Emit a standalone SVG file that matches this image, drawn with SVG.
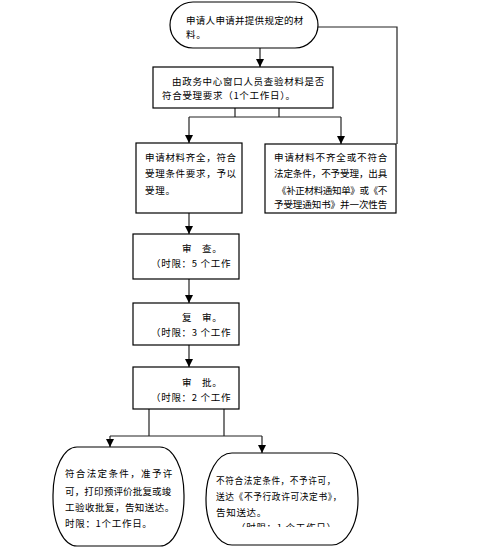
<svg xmlns="http://www.w3.org/2000/svg" width="503" height="555" viewBox="0 0 503 555">
<style>
.n{fill:#fff;stroke:#000;stroke-width:1.2}
.t{font-family:"Noto Sans CJK SC","Liberation Sans",sans-serif;font-size:9.5px;fill:#000;letter-spacing:0.7px}
.c{fill:none;stroke:#222;stroke-width:1.2}
</style>
<defs>
<marker id="ar" viewBox="0 0 8 8" refX="8" refY="4" markerWidth="8" markerHeight="8" markerUnits="userSpaceOnUse" orient="auto">
<path d="M0,0 L8,4 L0,8 Z" fill="#000"/>
</marker>
<clipPath id="clipR"><rect x="200" y="440" width="170" height="87"/></clipPath>
</defs>
<rect width="503" height="555" fill="#fff"/>
<g id="connectors">
<path class="c" d="M260,48 V67" marker-end="url(#ar)"/>
<path class="c" d="M318,27 H397 V144"/>
<path class="c" d="M235,108 V117 M279,108 V117 M189,117 H341"/>
<path class="c" d="M189,117 V143" marker-end="url(#ar)"/>
<path class="c" d="M341,117 V144" marker-end="url(#ar)"/>
<path class="c" d="M189,213 V234" marker-end="url(#ar)"/>
<path class="c" d="M189,279 V303" marker-end="url(#ar)"/>
<path class="c" d="M189,345 V367" marker-end="url(#ar)"/>
<path class="c" d="M149,409 V436 M224,409 V436 M110,436 H262"/>
<path class="c" d="M110,436 V447" marker-end="url(#ar)"/>
<path class="c" d="M262,436 V453" marker-end="url(#ar)"/>
</g>
<g id="start">
<rect class="n" x="170" y="2" width="148" height="46" rx="23" ry="23"/>
<text class="t" x="186" y="24" textLength="118" lengthAdjust="spacing">申请人申请并提供规定的材</text>
<text class="t" x="186" y="38">料。</text>
</g>
<g id="check">
<rect class="n" x="153" y="67" width="180" height="41"/>
<text class="t" x="172" y="85" textLength="153" lengthAdjust="spacing">由政务中心窗口人员查验材料是否</text>
<text class="t" x="162" y="99">符合受理要求（1个工作日）。</text>
</g>
<g id="accept">
<rect class="n" x="136" y="143" width="106" height="70"/>
<text class="t" x="145" y="161">申请材料齐全，符合</text>
<text class="t" x="145" y="177">受理条件要求，予以</text>
<text class="t" x="145" y="194">受理。</text>
</g>
<g id="reject">
<rect class="n" x="265" y="144" width="131" height="69"/>
<text class="t" x="274" y="161" textLength="114" lengthAdjust="spacing">申请材料不齐全或不符合</text>
<text class="t" x="274" y="177" textLength="114" lengthAdjust="spacing">法定条件，不予受理，出具</text>
<text class="t" x="277" y="194" textLength="111" lengthAdjust="spacing">《补正材料通知单》或《不</text>
<text class="t" x="274" y="208" textLength="114" lengthAdjust="spacing">予受理通知书》并一次性告</text>
</g>
<g id="review">
<rect class="n" x="133" y="234" width="106" height="45"/>
<text class="t" x="182" y="252">审</text>
<text class="t" x="202" y="252">查。</text>
<text class="t" x="151" y="267">（时限：5 个工作</text>
</g>
<g id="recheck">
<rect class="n" x="133" y="303" width="106" height="42"/>
<text class="t" x="182" y="321">复</text>
<text class="t" x="202" y="321">审。</text>
<text class="t" x="151" y="336">（时限：3 个工作</text>
</g>
<g id="approve">
<rect class="n" x="133" y="367" width="106" height="42"/>
<text class="t" x="182" y="386">审</text>
<text class="t" x="202" y="386">批。</text>
<text class="t" x="151" y="401">（时限：2 个工作</text>
</g>
<g id="grant">
<rect class="n" x="53" y="447" width="131" height="99" rx="24" ry="48"/>
<text class="t" x="65" y="477" textLength="108" lengthAdjust="spacing">符合法定条件，准予许</text>
<text class="t" x="65" y="495" textLength="107" lengthAdjust="spacing">可，打印预评价批复或竣</text>
<text class="t" x="65" y="511" textLength="110" lengthAdjust="spacing">工验收批复，告知送达。</text>
<text class="t" x="65" y="527">时限：1个工作日。</text>
</g>
<g id="deny">
<rect class="n" x="206" y="453" width="152" height="92" rx="26" ry="45"/>
<text class="t" x="216" y="484" textLength="120" lengthAdjust="spacingAndGlyphs">不符合法定条件，不予许可，</text>
<text class="t" x="216" y="500" textLength="126" lengthAdjust="spacingAndGlyphs">送达《不予行政许可决定书》，</text>
<text class="t" x="216" y="516">告知送达。</text>
<text class="t" x="236" y="531" clip-path="url(#clipR)">（时限：1 个工作日）</text>
</g>
</svg>
